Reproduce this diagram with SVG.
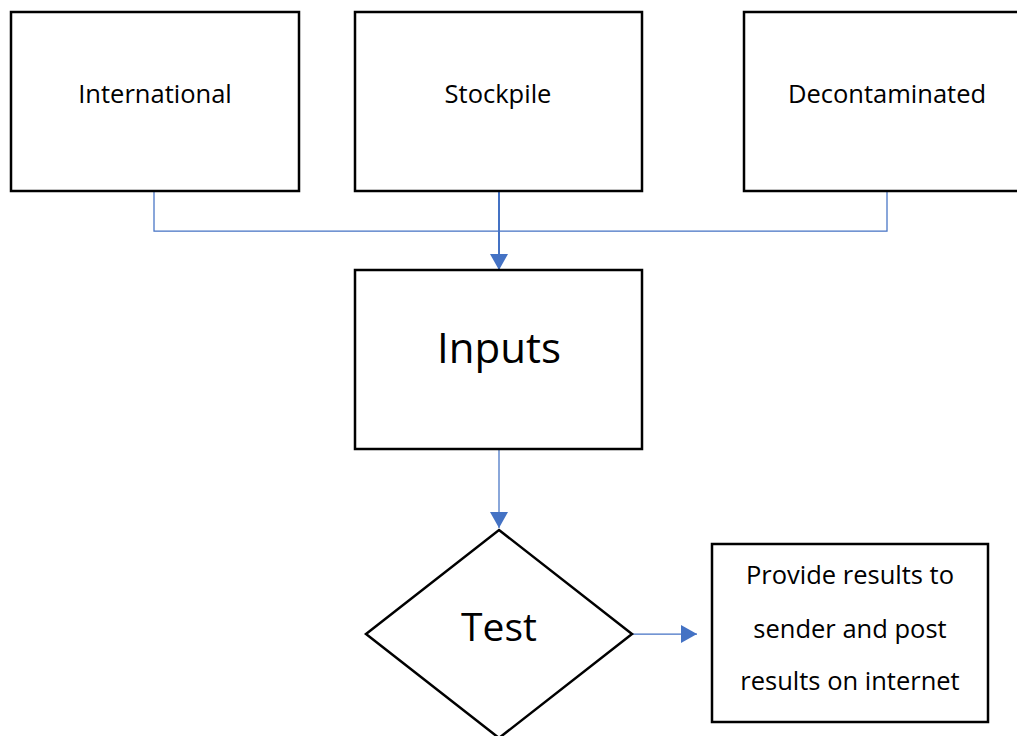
<svg xmlns="http://www.w3.org/2000/svg" width="1017" height="736" viewBox="0 0 1017 736">
<style>
.box{fill:#fff;stroke:#000;stroke-width:2.5}
.t{font-family:"Open Sans","Liberation Sans",sans-serif;fill:#000;text-anchor:middle;dominant-baseline:central}
.s{font-size:25.5px}
.c{fill:none;stroke:#4472C4;stroke-width:1.25}
</style>
<defs>
<marker id="ah" markerWidth="16" markerHeight="18" refX="16" refY="9" orient="auto" markerUnits="userSpaceOnUse">
<path d="M0,0 L16,9 L0,18 Z" fill="#4472C4"/>
</marker>
</defs>
<rect width="1017" height="736" fill="#fff"/>
<g id="connectors">
<polyline class="c" points="154,191 154,231 499,231"/>
<polyline class="c" points="887,191 887,231 499,231"/>
<line class="c" x1="499" y1="191" x2="499" y2="270" style="stroke-width:2" marker-end="url(#ah)"/>
<line class="c" x1="499" y1="449" x2="499" y2="528" marker-end="url(#ah)"/>
<line class="c" x1="632" y1="634" x2="697" y2="634" marker-end="url(#ah)"/>
</g>
<g id="international">
<rect class="box" x="11" y="12" width="288" height="179"/>
<text class="t s" x="155" y="93">International</text>
</g>
<g id="stockpile">
<rect class="box" x="355" y="12" width="287" height="179"/>
<text class="t s" x="498" y="93">Stockpile</text>
</g>
<g id="decontaminated">
<rect class="box" x="744" y="12" width="290" height="179"/>
<text class="t s" x="887" y="93">Decontaminated</text>
</g>
<g id="inputs">
<rect class="box" x="355" y="270" width="287" height="179"/>
<text class="t" style="font-size:42px" x="499" y="346">Inputs</text>
</g>
<g id="test">
<polygon class="box" points="499,530 632,634 499,738 366,634"/>
<text class="t" style="font-size:39px" x="499" y="625">Test</text>
</g>
<g id="results">
<rect class="box" x="712" y="544" width="276" height="178"/>
<text class="t s" x="850" y="574">Provide results to</text>
<text class="t s" x="850" y="628">sender and post</text>
<text class="t s" x="850" y="680">results on internet</text>
</g>
</svg>
